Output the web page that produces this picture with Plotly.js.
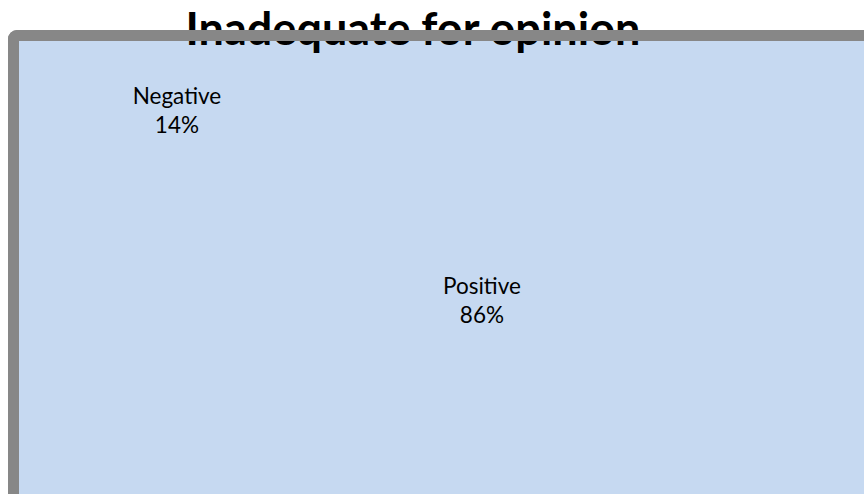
<!DOCTYPE html>
<html>
<head>
<meta charset="utf-8">
<script src="https://cdn.plot.ly/plotly-3.0.1.min.js"></script>
<style>
  html, body { margin: 0; padding: 0; width: 864px; height: 494px; overflow: hidden; background: #ffffff; }
  #chart { position: absolute; left: 0; top: -100px; width: 864px; height: 700px; }
  #frame { position: absolute; left: 8px; top: 30px; width: 900px; height: 520px; box-sizing: border-box;
           border-top: 11px solid #878787; border-left: 11px solid #878787; border-top-left-radius: 9px;
           pointer-events: none; z-index: 5; }
</style>
</head>
<body>
<div id="chart"></div>
<div id="frame"></div>
<script>
// ---- data ----
const categories = ["Negative", "Positive"];
const shares = [14, 86];
const chartTitle = "Inadequate for opinion";

// ---- geometry helpers (window px -> paper fraction of the 864x700 div offset by -100) ----
const W = 864, H = 700, OFF = 100;
const px = x => x / W;
const py = y => 1 - (y + OFF) / H;

const fill = "#C6D9F1";

const trace = {
  type: "pie",
  labels: categories,
  values: shares,
  sort: false,
  direction: "clockwise",
  rotation: 276.7,
  marker: { colors: ["rgba(0,0,0,0)", "rgba(0,0,0,0)"], line: { width: 0 } },
  textinfo: "label+percent",
  textposition: "inside",
  insidetextorientation: "horizontal",
  textfont: { family: "Lato, 'Open Sans', sans-serif", size: 22.5, color: "#000000" },
  hoverinfo: "none",
  domain: { x: [px(56), px(654.1)], y: [py(520), py(-78.2)] }
};

const layout = {
  width: W, height: H,
  margin: { l: 0, r: 0, t: 0, b: 0 },
  paper_bgcolor: "#ffffff",
  showlegend: false,
  title: {
    text: "<b>" + chartTitle + "</b>",
    font: { family: "Lato, 'Open Sans', sans-serif", size: 45, color: "#000000" },
    xref: "container", yref: "container",
    x: px(413), y: py(29), xanchor: "center", yanchor: "middle"
  },
  shapes: [{
    type: "rect", xref: "paper", yref: "paper", layer: "below",
    x0: px(19), x1: 1.05, y0: -0.05, y1: py(41),
    fillcolor: fill, line: { width: 0 }
  }]
};

Plotly.newPlot("chart", [trace], layout, { displayModeBar: false, staticPlot: true });
</script>
</body>
</html>
